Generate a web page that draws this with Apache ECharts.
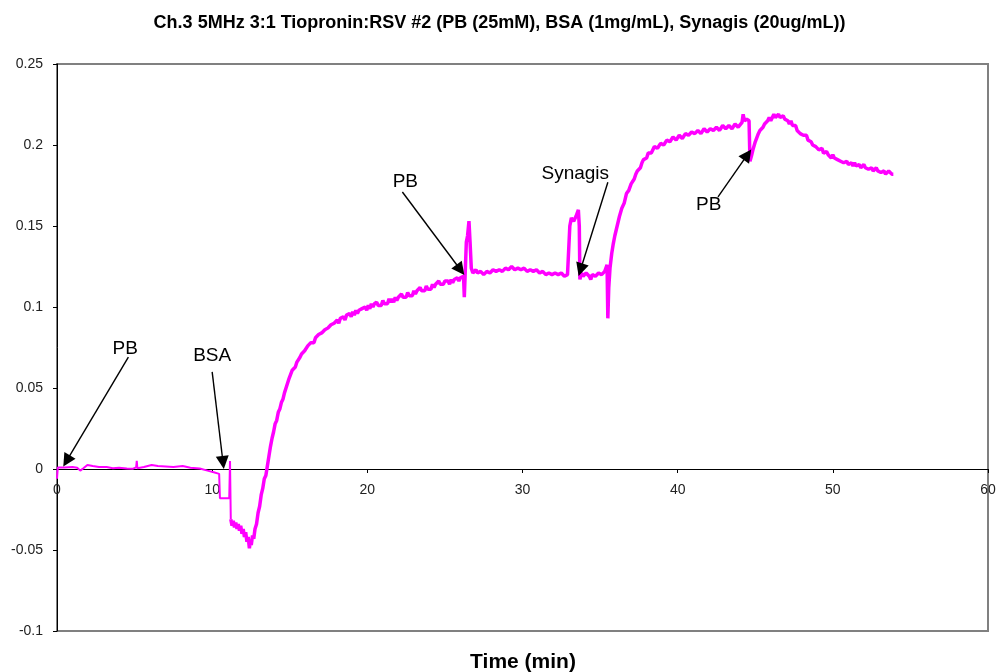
<!DOCTYPE html>
<html>
<head>
<meta charset="utf-8">
<script src="https://cdn.jsdelivr.net/npm/echarts@6/dist/echarts.min.js"></script>
<style>
html,body{margin:0;padding:0;background:#fff;}
#chart{width:999px;height:672px;}
</style>
</head>
<body>
<div id="chart"></div>
<script>
// ---- Data (time in min, response) ----
const chartTitle = 'Ch.3 5MHz 3:1 Tiopronin:RSV #2 (PB (25mM), BSA (1mg/mL), Synagis (20ug/mL))';
const xAxisTitle = 'Time (min)';
const xTicks = [0, 10, 20, 30, 40, 50, 60];
const yTicks = [-0.1, -0.05, 0, 0.05, 0.1, 0.15, 0.2, 0.25];

const baselineSegment = [
  [0,-0.006],[0.05,0.001],[0.5,0.001],[1.0,0.0012],[1.3,0.0008],[1.5,-0.001],[1.7,0.0005],[1.96,0.0025],
  [2.3,0.0018],[2.7,0.0012],[3.2,0.0012],[3.6,0.0005],[4.0,0.0008],[4.5,0.0003],[4.9,0.0002],
  [5.1,0.001],[5.14,0.005],[5.18,0.0005],[5.6,0.0012],[6.1,0.0025],[6.5,0.0018],[7.0,0.0016],
  [7.5,0.0012],[8.1,0.0018],[8.6,0.0008],[9.2,0.0003],[9.7,-0.001],[10.1,-0.002],[10.45,-0.003],
  [10.5,-0.018],[11.1,-0.018],[11.15,0.005],[11.2,-0.031]
];
const bsaSegment = [
  [11.2,-0.031],[11.28,-0.035],[11.36,-0.032],[11.44,-0.036],[11.52,-0.033],[11.6,-0.037],[11.68,-0.034],[11.76,-0.038],
  [11.84,-0.035],[11.92,-0.040],[12.0,-0.037],[12.08,-0.042],[12.16,-0.039],[12.24,-0.045],[12.32,-0.042],
  [12.4,-0.049],[12.46,-0.044],[12.52,-0.047],[12.6,-0.041],[12.68,-0.043],[12.76,-0.037],[12.86,-0.034],
  [12.96,-0.027],[13.06,-0.023],[13.16,-0.016],[13.26,-0.012],[13.36,-0.006],[13.46,-0.004],[13.56,0.002],
  [13.66,0.008],[13.76,0.014],[13.86,0.019],[13.96,0.023],[14.06,0.028],[14.16,0.030],[14.26,0.035],
  [14.36,0.037],[14.46,0.041],[14.56,0.043],[14.66,0.047],[14.76,0.050],[14.86,0.051],[14.96,0.056],
  [15.06,0.057],[15.16,0.061],[15.26,0.062],[15.36,0.063],[15.46,0.066],[15.56,0.066],[15.66,0.069],
  [15.76,0.071],[15.86,0.071],[15.96,0.073],[16.06,0.074],[16.16,0.076],[16.26,0.075],[16.36,0.078],
  [16.46,0.079],[16.56,0.078],[16.66,0.081],[16.76,0.080],[16.86,0.083],[16.96,0.082],[17.06,0.084],
  [17.16,0.083],[17.26,0.086],[17.36,0.085],[17.46,0.087],[17.56,0.086],[17.66,0.089],[17.76,0.088],
  [17.86,0.090],[17.96,0.089],[18.06,0.092],[18.16,0.090],[18.26,0.093],[18.36,0.092],[18.46,0.094],
  [18.56,0.092],[18.66,0.095],[18.76,0.094],[18.86,0.096],[18.96,0.094],[19.06,0.097],[19.16,0.095],
  [19.26,0.098],[19.36,0.096],[19.46,0.098],[19.56,0.097],[19.66,0.099],[19.76,0.098],[19.86,0.100],
  [19.96,0.098],[20.06,0.101],[20.16,0.099],[20.26,0.102],[20.36,0.100],[20.46,0.102],
  [20.6,0.103],[20.7,0.101],[20.8,0.102],[20.9,0.101],[21.0,0.104],[21.1,0.102],[21.2,0.103],[21.3,0.102],
  [21.4,0.105],[21.5,0.103],[21.6,0.105],[21.7,0.103],[21.8,0.106],[21.9,0.104],[22.0,0.106],[22.1,0.105],
  [22.2,0.108],[22.3,0.106],[22.4,0.107],[22.5,0.106],[22.6,0.109],[22.7,0.107],[22.8,0.108],[22.9,0.107],
  [23.0,0.110],[23.1,0.108],[23.2,0.110],[23.3,0.109],[23.4,0.112],[23.5,0.110],[23.6,0.111],[23.7,0.110],
  [23.8,0.113],[23.9,0.111],[24.0,0.112],[24.1,0.111],[24.2,0.114],[24.3,0.112],[24.4,0.114],[24.5,0.113],
  [24.6,0.116],[24.7,0.114],[24.8,0.115],[24.9,0.114],[25.0,0.116],[25.1,0.115],[25.2,0.116],[25.3,0.114],
  [25.4,0.117],[25.5,0.115],[25.6,0.117],[25.7,0.116],[25.8,0.118],[25.9,0.116],[26.0,0.118],[26.1,0.117],[26.2,0.119]
];
const pbSegment = [
  [26.25,0.106],[26.3,0.119],[26.38,0.140],[26.46,0.144],[26.55,0.153],[26.62,0.140],[26.7,0.124],[26.8,0.121],
  [26.9,0.122],[27.0,0.123],[27.1,0.121],[27.2,0.120],[27.3,0.122],[27.4,0.122],[27.5,0.120],[27.6,0.120],
  [27.7,0.122],[27.8,0.123],[27.9,0.121],[28.0,0.121],[28.1,0.123],[28.2,0.124],[28.3,0.122],[28.4,0.121],
  [28.5,0.123],[28.6,0.124],[28.7,0.122],[28.8,0.122],[28.9,0.124],[29.0,0.125],[29.1,0.123],[29.2,0.123],
  [29.3,0.125],[29.4,0.126],[29.5,0.123],[29.6,0.122],[29.7,0.124],[29.8,0.125],[29.9,0.123],[30.0,0.122],
  [30.1,0.124],[30.2,0.124],[30.3,0.122],[30.4,0.121],[30.5,0.123],[30.6,0.124],[30.7,0.122],[30.8,0.121],
  [30.9,0.123],[31.0,0.123],[31.1,0.121],[31.2,0.120],[31.3,0.122],[31.4,0.123],[31.5,0.120],[31.6,0.119],
  [31.7,0.121],[31.8,0.122],[31.9,0.120],[32.0,0.119],[32.1,0.121],[32.2,0.122],[32.3,0.120],[32.4,0.119],
  [32.5,0.121],[32.6,0.121],[32.7,0.119],[32.8,0.118],[32.9,0.120],[33.0,0.120]
];
const synagisSegment = [
  [33.05,0.150],[33.15,0.155],[33.3,0.153],[33.45,0.156],[33.6,0.160],[33.66,0.150],[33.7,0.117],[33.8,0.121],
  [33.9,0.119],[34.0,0.118],[34.1,0.121],[34.2,0.122],[34.3,0.119],[34.4,0.117],[34.5,0.120],[34.6,0.121],
  [34.7,0.119],[34.8,0.118],[34.9,0.121],[35.0,0.122],[35.1,0.120],[35.2,0.119],[35.3,0.122],[35.4,0.123],
  [35.45,0.126],[35.5,0.093],[35.56,0.112],[35.64,0.124],[35.75,0.133],[35.85,0.139],[35.95,0.144],[36.1,0.150],
  [36.25,0.156],[36.4,0.161],[36.55,0.164],[36.7,0.170],[36.85,0.172],[37.0,0.176],[37.1,0.177],[37.2,0.179],
  [37.3,0.182],[37.4,0.184],[37.5,0.184],[37.6,0.186],[37.7,0.189],[37.8,0.191],[37.9,0.190],[38.0,0.192],
  [38.1,0.195],[38.2,0.196],[38.3,0.195],[38.4,0.196],[38.5,0.199],[38.6,0.200],[38.7,0.198],[38.8,0.199],
  [38.9,0.201],[39.0,0.202],[39.1,0.200],[39.2,0.201],[39.3,0.203],[39.4,0.204],[39.5,0.202],[39.6,0.203],
  [39.7,0.205],[39.8,0.205],[39.9,0.203],[40.0,0.204],[40.1,0.206],[40.2,0.206],[40.3,0.204],[40.4,0.205],
  [40.5,0.207],[40.6,0.208],[40.7,0.206],[40.8,0.206],[40.9,0.208],[41.0,0.209],[41.1,0.207],[41.2,0.207],
  [41.3,0.209],[41.4,0.209],[41.5,0.207],[41.6,0.208],[41.7,0.210],[41.8,0.210],[41.9,0.208],[42.0,0.208],
  [42.1,0.210],[42.2,0.211],[42.3,0.209],[42.4,0.209],[42.5,0.211],[42.6,0.211],[42.7,0.209],[42.8,0.210],
  [42.9,0.212],[43.0,0.212],[43.1,0.210],[43.2,0.210],[43.3,0.212],[43.4,0.212],[43.5,0.210],[43.6,0.211],
  [43.7,0.213],[43.8,0.213],[43.9,0.211],[44.0,0.211],[44.15,0.214],[44.22,0.219],[44.3,0.215],[44.45,0.216],[44.6,0.215]
];
const finalPbSegment = [
  [44.66,0.190],[44.75,0.193],[44.85,0.197],[45.0,0.202],[45.1,0.203],[45.2,0.207],[45.3,0.209],[45.4,0.208],
  [45.5,0.211],[45.6,0.213],[45.7,0.212],[45.8,0.215],[45.9,0.217],[46.0,0.215],[46.1,0.217],[46.2,0.219],
  [46.3,0.217],[46.4,0.218],[46.5,0.219],[46.6,0.217],[46.7,0.218],[46.8,0.218],[46.9,0.216],[47.0,0.217],
  [47.1,0.215],[47.2,0.213],[47.3,0.215],[47.4,0.212],[47.5,0.211],[47.6,0.212],[47.7,0.209],[47.8,0.209],
  [47.9,0.207],[48.0,0.208],[48.1,0.206],[48.2,0.205],[48.3,0.206],[48.4,0.203],[48.5,0.204],[48.6,0.202],
  [48.7,0.200],[48.8,0.201],[48.9,0.199],[49.0,0.200],[49.1,0.197],[49.2,0.196],[49.3,0.198],[49.4,0.195],
  [49.5,0.194],[49.6,0.196],[49.7,0.194],[49.8,0.193],[49.9,0.192],[50.0,0.194],[50.1,0.192],[50.2,0.191],
  [50.3,0.191],[50.4,0.192],[50.5,0.190],[50.6,0.191],[50.7,0.189],[50.8,0.190],[50.9,0.190],[51.0,0.188],
  [51.1,0.188],[51.2,0.189],[51.3,0.187],[51.4,0.189],[51.5,0.187],[51.6,0.188],[51.7,0.188],[51.8,0.186],
  [51.9,0.186],[52.0,0.188],[52.1,0.186],[52.2,0.187],[52.3,0.185],[52.4,0.186],[52.5,0.186],[52.6,0.184],
  [52.7,0.184],[52.8,0.186],[52.9,0.184],[53.0,0.185],[53.1,0.183],[53.2,0.184],[53.3,0.184],[53.4,0.182],
  [53.5,0.182],[53.6,0.184],[53.7,0.183],[53.8,0.182],[53.9,0.182]
];

// Annotations: label text, label position, arrow start, arrow tip (data coordinates)
const annotationText  = ['PB', 'BSA', 'PB', 'Synagis', 'PB'];
const annotationLabel = [[4.4,0.074],[10.0,0.070],[22.45,0.177],[33.4,0.182],[42.0,0.163]];
const arrowStart      = [[4.6,0.069],[10.0,0.060],[22.26,0.171],[35.5,0.177],[42.6,0.168]];
const arrowTip        = [[0.62,0.005],[10.7,0.004],[26.0,0.123],[33.74,0.123],[44.5,0.194]];

// ---- Build chart ----
const noisyTrace = [].concat(bsaSegment, pbSegment, synagisSegment, finalPbSegment);
const FONT = '"Liberation Sans", Arial, sans-serif';

const GRID = {left: 57, right: 11, top: 64, bottom: 41};
const plotH = 672 - GRID.top - GRID.bottom;
const yMin = yTicks[0], yMax = yTicks[yTicks.length - 1];
// move the x axis (line + labels) up to the y = 0 level
const zeroOffset = -plotH * (0 - yMin) / (yMax - yMin);

const chart = echarts.init(document.getElementById('chart'), null, {renderer: 'canvas'});
chart.setOption({
  animation: false,
  backgroundColor: '#ffffff',
  title: [
    {text: chartTitle, left: 'center', top: 9,
     textStyle: {fontFamily: FONT, fontSize: 18, fontWeight: 'bold', color: '#000'}},
    {text: xAxisTitle, left: 518, textAlign: 'center', top: 647,
     textStyle: {fontFamily: FONT, fontSize: 21, fontWeight: 'bold', color: '#000'}}
  ],
  grid: Object.assign({show: true, borderColor: '#808080', borderWidth: 2,
         backgroundColor: '#fff', containLabel: false}, GRID),
  xAxis: {
    type: 'value', min: xTicks[0], max: xTicks[xTicks.length-1], interval: 10,
    position: 'bottom', offset: zeroOffset,
    axisLine: {show: true, onZero: false, lineStyle: {color: '#000', width: 1}},
    axisTick: {show: true, length: 4, lineStyle: {color: '#000'}},
    axisLabel: {fontFamily: FONT, fontSize: 14, color: '#222', margin: 14},
    splitLine: {show: false}
  },
  yAxis: {
    type: 'value', min: yMin, max: yMax, interval: 0.05,
    axisLine: {show: true, onZero: false, lineStyle: {color: '#000', width: 1}},
    axisTick: {show: true, length: 4, lineStyle: {color: '#000'}},
    axisLabel: {fontFamily: FONT, fontSize: 14, color: '#222', margin: 14,
                formatter: v => String(+v.toFixed(2))},
    splitLine: {show: false}
  },
  series: [{
    type: 'line',
    data: baselineSegment,
    showSymbol: false,
    symbol: 'none',
    lineStyle: {color: '#ff00ff', width: 2},
    silent: true
  }, {
    type: 'line',
    data: noisyTrace,
    showSymbol: false,
    symbol: 'none',
    lineStyle: {color: '#ff00ff', width: 3.5},
    itemStyle: {color: '#ff00ff'},
    silent: true,
    markLine: {
      silent: true,
      symbol: ['none', 'triangle'],
      symbolSize: 13,
      label: {show: false},
      lineStyle: {color: '#000', width: 1.4, type: 'solid'},
      emphasis: {disabled: true},
      data: arrowStart.map((s, i) => [{coord: s}, {coord: arrowTip[i]}])
    },
    markPoint: {
      silent: true,
      symbol: 'circle',
      symbolSize: 1,
      itemStyle: {color: 'rgba(0,0,0,0)'},
      label: {show: true, position: 'inside', color: '#000', fontFamily: FONT, fontSize: 19},
      data: annotationText.map((t, i) => ({coord: annotationLabel[i], value: t,
        label: {formatter: t}}))
    }
  }]
});
</script>
</body>
</html>
